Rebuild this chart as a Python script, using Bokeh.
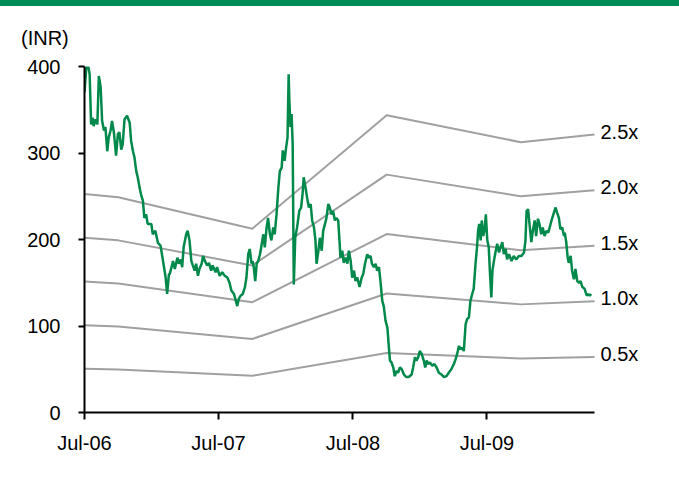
import pandas as pd
from bokeh.plotting import figure
from bokeh.core.properties import value
from bokeh.models import (Range1d, FixedTicker, DatetimeTickFormatter,
                          LabelSet, ColumnDataSource, Div)
from bokeh.layouts import column
from bokeh.embed import file_html
from bokeh.resources import INLINE

START = "2006-07-01"
UNIT = "(INR)"

# Share price (INR): day offsets from 1 Jul 2006 and prices
price_days = [0, 5, 11, 14, 18, 22, 25, 30, 35, 39, 44, 48, 53, 57, 62, 66, 71, 75, 80, 86,
              91, 95, 100, 104, 109, 116, 123, 127, 132, 136, 141, 145, 150, 154, 159, 163, 168, 172, 182, 186,
              193, 200, 207, 214, 221, 225, 230, 232, 237, 241, 246, 253, 257, 262, 266, 270, 277, 281, 286, 291,
              295, 300, 304, 309, 313, 319, 323, 328, 334, 339, 345, 349, 357, 361, 368, 375, 382, 389, 395, 400,
              407, 411, 416, 420, 425, 431, 437, 441, 446, 450, 455, 458, 461, 465, 469, 473, 478, 482, 487, 491,
              496, 500, 505, 509, 514, 518, 523, 528, 532, 537, 540, 545, 549, 553, 556, 558, 561, 564, 567, 570,
              574, 579, 585, 590, 594, 597, 602, 606, 611, 616, 620, 625, 629, 632, 637, 641, 646, 650, 655, 659,
              664, 668, 673, 677, 682, 686, 691, 695, 697, 702, 706, 711, 716, 720, 725, 729, 734, 738, 743, 749,
              755, 759, 764, 770, 774, 779, 783, 788, 793, 797, 802, 806, 811, 815, 820, 825, 829, 832, 836, 841,
              845, 850, 854, 859, 864, 870, 876, 883, 891, 895, 900, 904, 909, 913, 918, 924, 928, 932, 936, 941,
              947, 953, 959, 965, 972, 979, 986, 992, 999, 1006, 1011, 1015, 1020, 1024, 1029, 1033, 1038, 1042, 1047, 1051,
              1056, 1060, 1065, 1069, 1072, 1075, 1079, 1082, 1086, 1090, 1093, 1097, 1101, 1104, 1108, 1111, 1115, 1120, 1124, 1129,
              1133, 1138, 1142, 1147, 1151, 1156, 1158, 1163, 1169, 1176, 1183, 1190, 1197, 1201, 1204, 1208, 1212, 1217, 1221, 1226,
              1230, 1235, 1239, 1244, 1248, 1253, 1258, 1263, 1267, 1272, 1277, 1283, 1287, 1292, 1296, 1301, 1306, 1308, 1312, 1316,
              1319, 1324, 1328, 1333, 1337, 1342, 1347, 1351, 1356, 1362, 1368, 1372, 1376, 1380]
price = [370, 399, 399, 391, 333, 341, 331, 339, 333, 389, 376, 337, 326, 330, 302, 318, 326, 337, 324, 297,
         322, 324, 304, 310, 339, 343, 335, 314, 302, 295, 279, 272, 260, 252, 245, 225, 229, 218, 218, 206,
         210, 196, 193, 175, 156, 137, 160, 160, 168, 175, 166, 179, 172, 177, 168, 191, 206, 210, 199, 175,
         170, 164, 172, 158, 166, 172, 181, 175, 170, 173, 164, 170, 162, 168, 158, 162, 158, 156, 150, 141,
         137, 131, 123, 131, 135, 137, 145, 156, 183, 189, 172, 175, 168, 152, 172, 175, 183, 193, 206, 191,
         214, 225, 206, 199, 214, 206, 229, 260, 279, 283, 303, 291, 306, 318, 391, 360, 330, 345, 310, 148,
         202, 214, 233, 237, 253, 272, 260, 249, 237, 241, 222, 214, 199, 172, 187, 202, 187, 210, 218, 225,
         241, 237, 229, 233, 222, 225, 222, 195, 179, 187, 173, 179, 172, 187, 175, 156, 164, 152, 156, 145,
         156, 160, 172, 183, 179, 181, 172, 168, 172, 164, 168, 152, 129, 123, 106, 98, 75, 60, 58, 52,
         42, 48, 46, 52, 50, 44, 41, 41, 44, 52, 64, 60, 64, 71, 68, 60, 52, 60, 56, 58,
         54, 56, 52, 46, 44, 41, 42, 46, 50, 56, 62, 68, 77, 73, 75, 71, 102, 108, 110, 129,
         137, 143, 172, 191, 210, 218, 199, 222, 204, 212, 229, 199, 191, 164, 133, 164, 175, 187, 195, 185,
         191, 197, 183, 189, 177, 183, 181, 175, 181, 177, 181, 181, 185, 199, 233, 235, 218, 197, 210, 222,
         204, 224, 218, 206, 214, 204, 210, 208, 214, 222, 229, 237, 231, 225, 212, 214, 204, 208, 197, 179,
         173, 181, 164, 154, 166, 152, 150, 152, 145, 143, 135, 137, 135, 137]

# EPS path for the P/E band lines (day offsets and EPS)
eps_days = [0, 92, 457, 823, 1188, 1389]
eps = [101, 99.5, 85, 137.5, 125, 128.5]
multiples = [0.5, 1.0, 1.5, 2.0, 2.5]
band_labels = ["0.5x", "1.0x", "1.5x", "2.0x", "2.5x"]

x_tick_dates = ["2006-07-01", "2007-07-01", "2008-07-01", "2009-07-01"]
y_ticks = [0, 100, 200, 300, 400]

start = pd.Timestamp(START)
price_dt = start + pd.to_timedelta(price_days, unit="D")
eps_dt = start + pd.to_timedelta(eps_days, unit="D")
end_dt = eps_dt[-1]

def ms(ts):
    return pd.Timestamp(ts).value / 1e6

GREEN = "#00894A"
BAR = "#008A55"
BAND = "#A0A0A0"
FONT = "Liberation Sans"
FS = "20px"

# frame spans from the y axis (x=84) to the right edge of the canvas (x=679);
# the axis line itself stops at the last data date (x=594)
x_end = ms(end_dt) + (ms(end_dt) - ms(start)) * (679 - 594) / (594 - 84)

p = figure(width=679, height=429, x_axis_type="datetime", output_backend="svg",
           toolbar_location=None, x_range=Range1d(ms(start), x_end),
           y_range=Range1d(0, 400), min_border_left=84, min_border_right=0,
           min_border_top=16, min_border_bottom=67)
p.outline_line_color = None
p.grid.visible = False
p.background_fill_color = "white"
p.border_fill_color = "white"

for m in multiples:
    p.line(eps_dt, [m * e for e in eps], line_color=BAND, line_width=2)

p.line(price_dt, price, line_color=GREEN, line_width=2.5)

lab_src = ColumnDataSource(dict(x=[end_dt] * len(multiples),
                                y=[m * eps[-1] for m in multiples],
                                t=band_labels))
p.add_layout(LabelSet(x="x", y="y", text="t", source=lab_src, x_offset=6, y_offset=3,
                      text_font=value(FONT), text_font_size=value(FS), text_color="black",
                      text_align="left", text_baseline="middle"))

for ax in (p.xaxis[0], p.yaxis[0]):
    ax.axis_line_color = "black"
    ax.axis_line_width = 2
    ax.major_tick_line_color = "black"
    ax.major_tick_line_width = 2
    ax.major_tick_in = 0
    ax.minor_tick_line_color = None
    ax.major_label_text_font = FONT
    ax.major_label_text_font_size = FS
    ax.major_label_text_color = "black"

p.yaxis.ticker = FixedTicker(ticks=y_ticks)
p.yaxis.major_tick_out = 6
p.yaxis.major_label_standoff = 18

p.xaxis.bounds = (ms(start), ms(end_dt))
p.xaxis.ticker = FixedTicker(ticks=[ms(d) for d in x_tick_dates])
p.xaxis.major_tick_out = 7
p.xaxis.major_label_standoff = 12
fmt = "%b-%y"
p.xaxis.formatter = DatetimeTickFormatter(years=fmt, months=fmt, days=fmt, hours=fmt,
                                          minutes=fmt, seconds=fmt, milliseconds=fmt,
                                          microseconds=fmt, hourmin=fmt, minsec=fmt)

header_html = (
    f'<div style="height:6px;width:679px;background:{BAR};margin:0"></div>'
    f'<div style="margin:22px 0 0 21px;font-family:\'{FONT}\';font-size:{FS};'
    f'line-height:20px;color:black">{UNIT}</div>'
)
header = Div(text=header_html, width=679, height=50, margin=(0, 0, 0, 0))
layout = column(header, p, spacing=0)

open("out.html", "w").write(file_html(layout, INLINE))
